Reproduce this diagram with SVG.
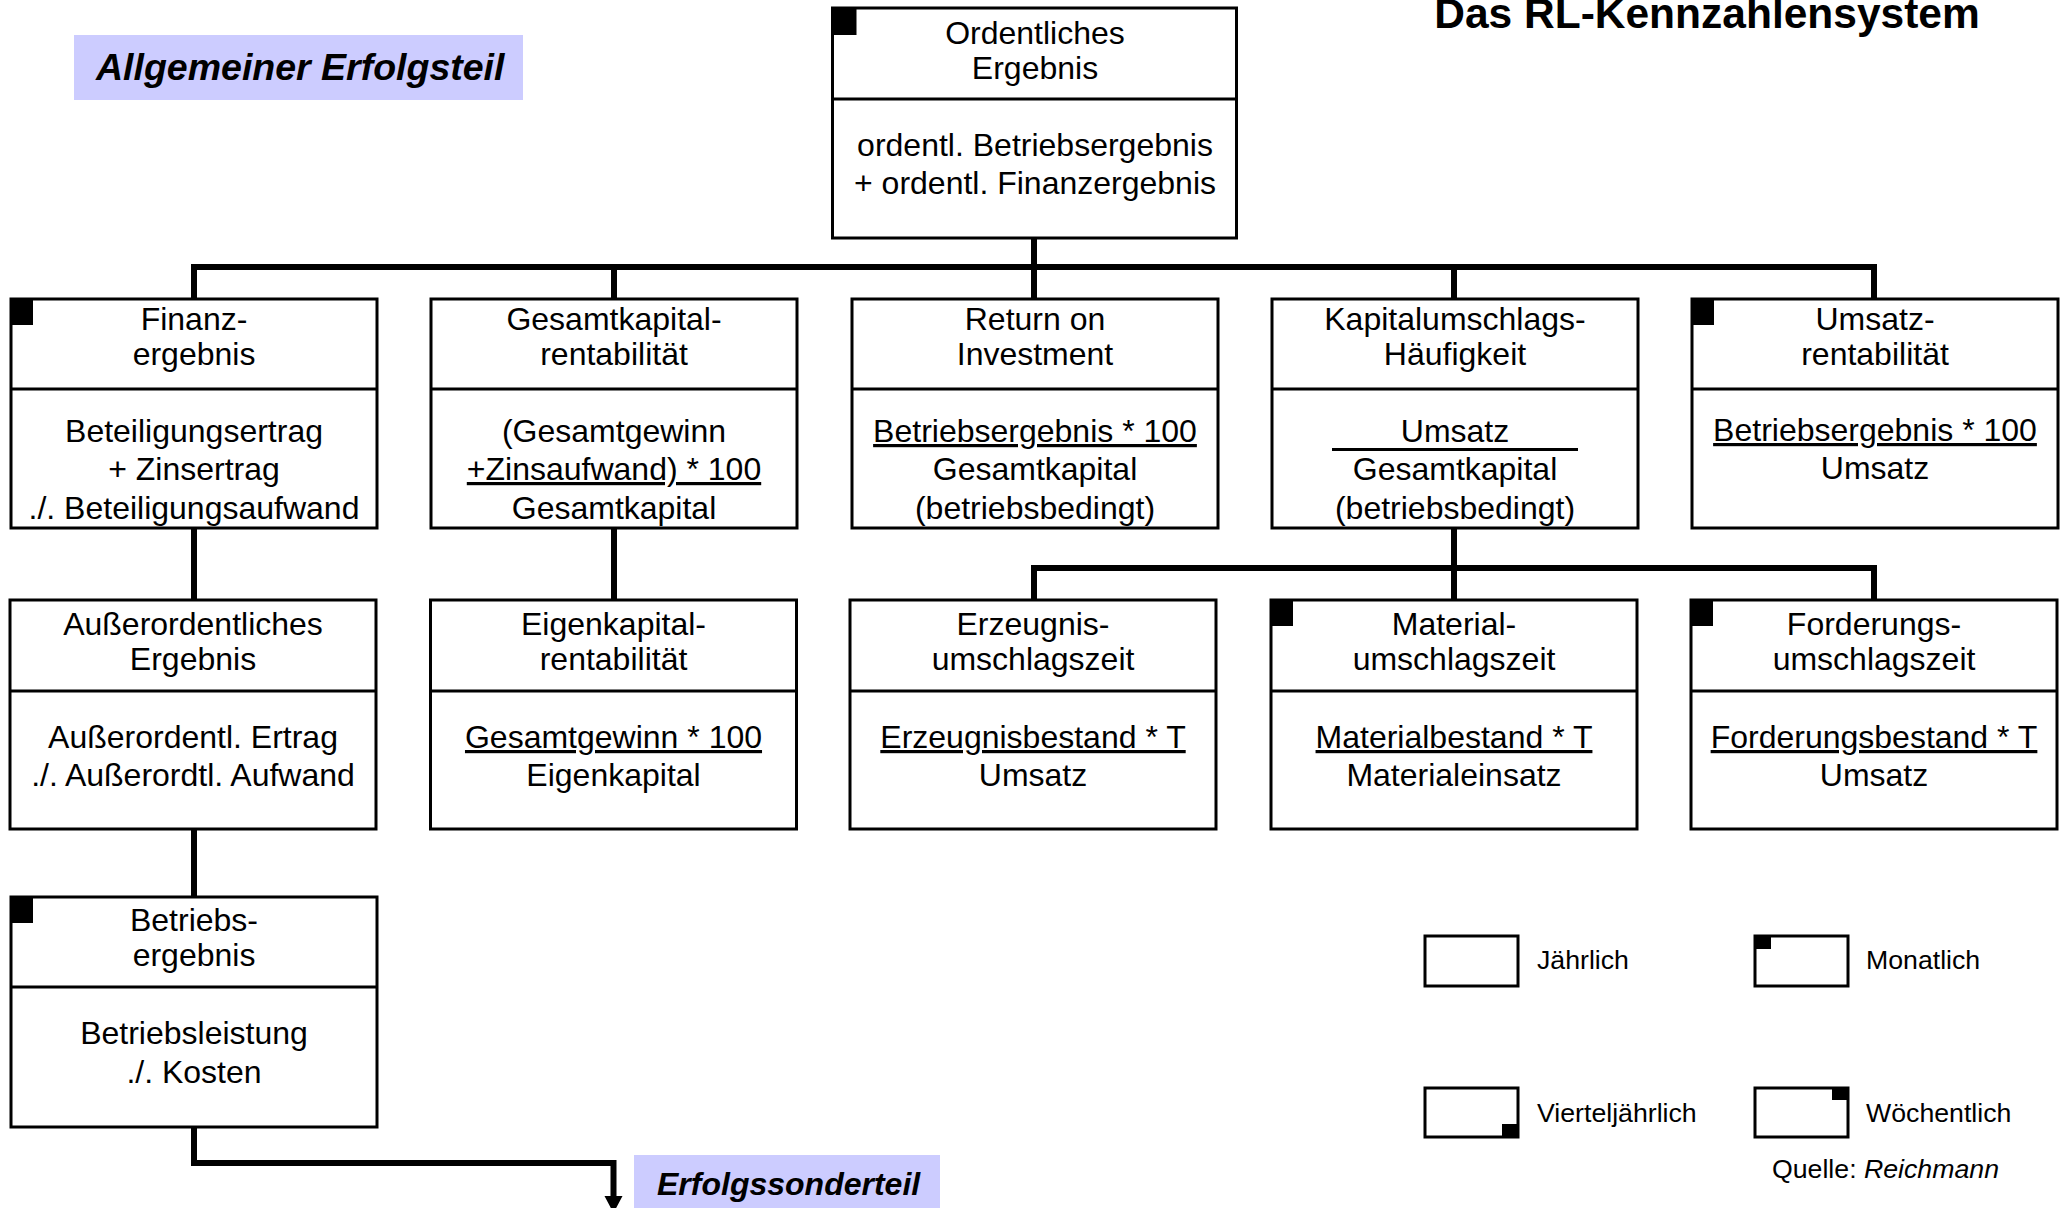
<svg xmlns="http://www.w3.org/2000/svg" width="2067" height="1208" viewBox="0 0 2067 1208">
  <style>
    .box { fill: #ffffff; stroke: #000000; stroke-width: 3; }
    .sep { stroke: #000000; stroke-width: 3; }
    .mk { fill: #000000; }
    .t { font-family: "Liberation Sans", Arial, sans-serif; font-size: 32px; text-anchor: middle; fill: #000000; }
    .u { text-decoration: underline; text-underline-offset: 5px; text-decoration-thickness: 3px; }
    .conn { fill: none; stroke: #000000; stroke-width: 6; stroke-linejoin: miter; }
    .band { fill: #ccccff; }
    .head { font-family: "Liberation Sans", Arial, sans-serif; font-weight: bold; font-style: italic; fill: #000000; }
    .lg { fill: #ffffff; stroke: #000000; stroke-width: 3; }
    .lt { font-family: "Liberation Sans", Arial, sans-serif; font-size: 26.7px; fill: #000000; }
  </style>

  <!-- title and section labels -->
  <text x="1707" y="28" text-anchor="middle" font-family="'Liberation Sans', Arial, sans-serif" font-weight="bold" font-size="42.5">Das RL-Kennzahlensystem</text>
  <g id="label-allgemein">
    <rect class="band" x="74" y="35" width="449" height="65"/>
    <text class="head" x="96" y="80" font-size="37.5">Allgemeiner Erfolgsteil</text>
  </g>
  <g id="label-sonderteil">
    <rect class="band" x="634" y="1155" width="306" height="60"/>
    <text class="head" x="657" y="1195" font-size="32">Erfolgssonderteil</text>
  </g>

  <!-- connectors -->
  <g id="connectors">
    <path class="conn" d="M1034,238 V267"/>
    <path class="conn" d="M194,299 V267 H1874 V299"/>
    <path class="conn" d="M614,267 V299"/>
    <path class="conn" d="M1034,267 V299"/>
    <path class="conn" d="M1454,267 V299"/>
    <path class="conn" d="M194,528 V600"/>
    <path class="conn" d="M614,528 V600"/>
    <path class="conn" d="M1454,528 V568"/>
    <path class="conn" d="M1034,600 V568 H1874 V600"/>
    <path class="conn" d="M1454,568 V600"/>
    <path class="conn" d="M194,829 V897"/>
    <path class="conn" d="M194,1127 V1163 H613.5 V1198"/>
    <polygon points="604.5,1196 622.5,1196 613.5,1213" fill="#000000"/>
  </g>

  <!-- top node -->
  <g id="ordentliches-ergebnis">
    <rect class="box" x="832.5" y="8" width="404" height="230"/>
    <line class="sep" x1="832.5" y1="99" x2="1236.5" y2="99"/>
    <rect class="mk" x="832.5" y="8" width="24" height="27"/>
    <text class="t" x="1035" y="44">Ordentliches</text>
    <text class="t" x="1035" y="79">Ergebnis</text>
    <text class="t" x="1035" y="156">ordentl. Betriebsergebnis</text>
    <text class="t" x="1035" y="193.5">+ ordentl. Finanzergebnis</text>
  </g>

  <!-- first row -->
  <g id="finanzergebnis">
    <rect class="box" x="11" y="299" width="366" height="229"/>
    <line class="sep" x1="11" y1="389" x2="377" y2="389"/>
    <rect class="mk" x="11" y="299" width="22" height="26"/>
    <text class="t" x="194" y="330">Finanz-</text>
    <text class="t" x="194" y="365">ergebnis</text>
    <text class="t" x="194" y="442">Beteiligungsertrag</text>
    <text class="t" x="194" y="480">+ Zinsertrag</text>
    <text class="t" x="194" y="519">./. Beteiligungsaufwand</text>
  </g>
  <g id="gesamtkapitalrentabilitaet">
    <rect class="box" x="431" y="299" width="366" height="229"/>
    <line class="sep" x1="431" y1="389" x2="797" y2="389"/>
    <text class="t" x="614" y="330">Gesamtkapital-</text>
    <text class="t" x="614" y="365">rentabilität</text>
    <text class="t" x="614" y="442">(Gesamtgewinn</text>
    <text class="t u" x="614" y="480">+Zinsaufwand) * 100</text>
    <text class="t" x="614" y="519">Gesamtkapital</text>
  </g>
  <g id="return-on-investment">
    <rect class="box" x="852" y="299" width="366" height="229"/>
    <line class="sep" x1="852" y1="389" x2="1218" y2="389"/>
    <text class="t" x="1035" y="330">Return on</text>
    <text class="t" x="1035" y="365">Investment</text>
    <text class="t u" x="1035" y="442">Betriebsergebnis * 100</text>
    <text class="t" x="1035" y="480">Gesamtkapital</text>
    <text class="t" x="1035" y="519">(betriebsbedingt)</text>
  </g>
  <g id="kapitalumschlagshaeufigkeit">
    <rect class="box" x="1272" y="299" width="366" height="229"/>
    <line class="sep" x1="1272" y1="389" x2="1638" y2="389"/>
    <text class="t" x="1455" y="330">Kapitalumschlags-</text>
    <text class="t" x="1455" y="365">Häufigkeit</text>
    <text class="t" x="1455" y="442">Umsatz</text>
    <line class="sep" x1="1332" y1="449.5" x2="1578" y2="449.5"/>
    <text class="t" x="1455" y="480">Gesamtkapital</text>
    <text class="t" x="1455" y="519">(betriebsbedingt)</text>
  </g>
  <g id="umsatzrentabilitaet">
    <rect class="box" x="1692" y="299" width="366" height="229"/>
    <line class="sep" x1="1692" y1="389" x2="2058" y2="389"/>
    <rect class="mk" x="1692" y="299" width="22" height="26"/>
    <text class="t" x="1875" y="330">Umsatz-</text>
    <text class="t" x="1875" y="365">rentabilität</text>
    <text class="t u" x="1875" y="441">Betriebsergebnis * 100</text>
    <text class="t" x="1875" y="479">Umsatz</text>
  </g>

  <!-- second row -->
  <g id="ausserordentliches-ergebnis">
    <rect class="box" x="10" y="600" width="366" height="229"/>
    <line class="sep" x1="10" y1="691" x2="376" y2="691"/>
    <text class="t" x="193" y="635">Außerordentliches</text>
    <text class="t" x="193" y="670">Ergebnis</text>
    <text class="t" x="193" y="748">Außerordentl. Ertrag</text>
    <text class="t" x="193" y="786">./. Außerordtl. Aufwand</text>
  </g>
  <g id="eigenkapitalrentabilitaet">
    <rect class="box" x="430.5" y="600" width="366" height="229"/>
    <line class="sep" x1="430.5" y1="691" x2="796.5" y2="691"/>
    <text class="t" x="613.5" y="635">Eigenkapital-</text>
    <text class="t" x="613.5" y="670">rentabilität</text>
    <text class="t u" x="613.5" y="748">Gesamtgewinn * 100</text>
    <text class="t" x="613.5" y="786">Eigenkapital</text>
  </g>
  <g id="erzeugnisumschlagszeit">
    <rect class="box" x="850" y="600" width="366" height="229"/>
    <line class="sep" x1="850" y1="691" x2="1216" y2="691"/>
    <text class="t" x="1033" y="635">Erzeugnis-</text>
    <text class="t" x="1033" y="670">umschlagszeit</text>
    <text class="t u" x="1033" y="748">Erzeugnisbestand * T</text>
    <text class="t" x="1033" y="786">Umsatz</text>
  </g>
  <g id="materialumschlagszeit">
    <rect class="box" x="1271" y="600" width="366" height="229"/>
    <line class="sep" x1="1271" y1="691" x2="1637" y2="691"/>
    <rect class="mk" x="1271" y="600" width="22" height="26"/>
    <text class="t" x="1454" y="635">Material-</text>
    <text class="t" x="1454" y="670">umschlagszeit</text>
    <text class="t u" x="1454" y="748">Materialbestand * T</text>
    <text class="t" x="1454" y="786">Materialeinsatz</text>
  </g>
  <g id="forderungsumschlagszeit">
    <rect class="box" x="1691" y="600" width="366" height="229"/>
    <line class="sep" x1="1691" y1="691" x2="2057" y2="691"/>
    <rect class="mk" x="1691" y="600" width="22" height="26"/>
    <text class="t" x="1874" y="635">Forderungs-</text>
    <text class="t" x="1874" y="670">umschlagszeit</text>
    <text class="t u" x="1874" y="748">Forderungsbestand * T</text>
    <text class="t" x="1874" y="786">Umsatz</text>
  </g>

  <!-- third row -->
  <g id="betriebsergebnis">
    <rect class="box" x="11" y="897" width="366" height="230"/>
    <line class="sep" x1="11" y1="987" x2="377" y2="987"/>
    <rect class="mk" x="11" y="897" width="22" height="26"/>
    <text class="t" x="194" y="931">Betriebs-</text>
    <text class="t" x="194" y="966">ergebnis</text>
    <text class="t" x="194" y="1044">Betriebsleistung</text>
    <text class="t" x="194" y="1083">./. Kosten</text>
  </g>

  <!-- legend -->
  <g id="legend">
    <rect class="lg" x="1425" y="936" width="93" height="50"/>
    <text class="lt" x="1537" y="969">Jährlich</text>
    <rect class="lg" x="1755" y="936" width="93" height="50"/>
    <rect class="mk" x="1755" y="936" width="16" height="13"/>
    <text class="lt" x="1866" y="969">Monatlich</text>
    <rect class="lg" x="1425" y="1088" width="93" height="49"/>
    <rect class="mk" x="1502" y="1124" width="16" height="13"/>
    <text class="lt" x="1537" y="1122">Vierteljährlich</text>
    <rect class="lg" x="1755" y="1088" width="93" height="49"/>
    <rect class="mk" x="1832" y="1088" width="16" height="12"/>
    <text class="lt" x="1866" y="1122">Wöchentlich</text>
    <text class="lt" x="1772" y="1178">Quelle: <tspan font-style="italic">Reichmann</tspan></text>
  </g>
</svg>
